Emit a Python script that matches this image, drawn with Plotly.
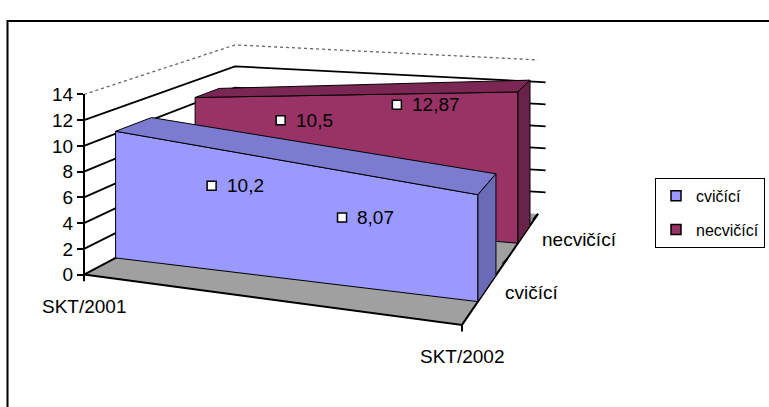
import plotly.graph_objects as go

# ---- data -------------------------------------------------------------
categories = ["SKT/2001", "SKT/2002"]
series_names = ["cvičící", "necvičící"]
cvicici = [10.2, 8.07]
necvicici = [10.5, 12.87]
series_values = [cvicici, necvicici]
value_ticks = [0, 2, 4, 6, 8, 10, 12, 14]
value_tick_labels = ["0", "2", "4", "6", "8", "10", "12", "14"]

# ---- styling ------------------------------------------------------------
FONT = "Liberation Sans, Arial, sans-serif"
FRONT = ["#9999FF", "#993366"]
TOP = ["#7B7BD0", "#7A2853"]
SIDE = ["#6A6AB6", "#6A2348"]
FLOOR = "#A0A0A0"
W, H = 769, 407

# ---- 3-D box projection (screen space, y grows downwards) --------------
# floor corners of the plot box: front-left, front-right, back-left, back-right
BOX = {"FL": (84, 279), "FR": (462, 332), "BL": (235, 195), "BR": (538, 215)}
# pixels per value unit at each vertical edge of the box
SCALE = {"FL": 13.57, "FR": 14.6, "BL": 11.3, "BR": 11.6}
PERSP = 0.5          # depth foreshortening
VMAX = value_ticks[-1]
SLAB = 0.2           # thickness of each area band (share of total depth)


def depth_frac(d):
    return d * (1 + PERSP) / (1 + PERSP * d)


def bilinear(key_vals, c, f):
    fl, fr, bl, br = (key_vals[k] for k in ("FL", "FR", "BL", "BR"))
    return (1 - c) * (1 - f) * fl + c * (1 - f) * fr + (1 - c) * f * bl + c * f * br


def project(c, d, v):
    f = depth_frac(d)
    x = bilinear({k: p[0] for k, p in BOX.items()}, c, f)
    y = bilinear({k: p[1] for k, p in BOX.items()}, c, f)
    s = bilinear(SCALE, c, f)
    return x, y - v * s


def poly(points):
    xs = [p[0] for p in points] + [points[0][0]]
    ys = [p[1] for p in points] + [points[0][1]]
    return xs, ys


fig = go.Figure()


def add_face(points, fill, line="black", lw=1):
    xs, ys = poly(points)
    fig.add_trace(go.Scatter(x=xs, y=ys, mode="lines", fill="toself", fillcolor=fill,
                             line=dict(color=line, width=lw), hoverinfo="skip",
                             showlegend=False))


def add_line(points, color="black", width=1.8, dash="solid"):
    fig.add_trace(go.Scatter(x=[p[0] for p in points], y=[p[1] for p in points],
                             mode="lines", line=dict(color=color, width=width, dash=dash),
                             hoverinfo="skip", showlegend=False))


# walls
add_face([project(0, 1, 0), project(1, 1, 0), project(1, 1, VMAX), project(0, 1, VMAX)], "white", "white", 0)
add_face([project(0, 0, 0), project(0, 1, 0), project(0, 1, VMAX), project(0, 0, VMAX)], "white", "white", 0)

# gridlines on the walls (with a tick past the back-right edge)
for v in value_ticks[1:-1]:
    add_line([project(0, 0, v), project(0, 1, v), project(1, 1, v), project(1.025, 1, v)])
add_line([project(0, 0, VMAX), project(0, 1, VMAX), project(1, 1, VMAX)], "#666666", 1.3, "dot")

# floor
add_face([project(0, 0, 0), project(1, 0, 0), project(1, 1, 0), project(0, 1, 0)], FLOOR, FLOOR, 0)
add_line([project(0, 1, 0), project(0, 0, 0), project(1, 0, 0), project(1, 1, 0)], "black", 2)
for c in (0, 1):
    x, y = project(c, 0, 0)
    add_line([(x, y), (x, y + 7)], "black", 2)
for d in (0.5, 1):
    x, y = project(1, d, 0)
    add_line([(x, y), (x - 5, y + 6)], "black", 2)

# area bands, back series first
n = len(series_names)
for j in reversed(range(n)):
    vals = series_values[j]
    d0 = (j + 0.5) / n - SLAB / 2
    d1 = (j + 0.5) / n + SLAB / 2
    c0, c1 = 0, 1
    v0, v1 = vals[0], vals[-1]
    add_face([project(c0, d0, 0), project(c1, d0, 0), project(c1, d0, v1), project(c0, d0, v0)], FRONT[j])
    add_face([project(c0, d0, v0), project(c1, d0, v1), project(c1, d1, v1), project(c0, d1, v0)], TOP[j])
    add_face([project(c1, d0, 0), project(c1, d1, 0), project(c1, d1, v1), project(c1, d0, v1)], SIDE[j])

# data labels with legend keys
LABEL_C = [0.265, 0.625]
LABEL_H = [0.65, 0.86]
for j in range(n):
    d0 = (j + 0.5) / n - SLAB / 2
    for i, v in enumerate(series_values[j]):
        x, y = project(LABEL_C[i], d0, v * LABEL_H[j])
        fig.add_trace(go.Scatter(x=[x], y=[y], mode="markers", hoverinfo="skip", showlegend=False,
                                 marker=dict(symbol="square", size=9, color="white",
                                             line=dict(color="black", width=1.5))))
        fig.add_annotation(x=x, y=y, text=f"{v:g}".replace(".", ","), showarrow=False,
                           xanchor="left", yanchor="middle", xshift=13,
                           font=dict(family=FONT, size=19, color="black"))

# category labels
for i, name in enumerate(categories):
    x, y = project(i / (len(categories) - 1), 0, 0)
    fig.add_annotation(x=x, y=y, text=name, showarrow=False, xanchor="center", yanchor="middle",
                       yshift=-32, font=dict(family=FONT, size=19, color="black"))

# series labels along the depth axis
for j, name in enumerate(series_names):
    x, y = project(1, (j + 0.5) / n, 0)
    fig.add_annotation(x=x, y=y, text=name, showarrow=False, xanchor="left", yanchor="middle",
                       xshift=16, yshift=-5, font=dict(family=FONT, size=19, color="black"))

# legend entries
for j, name in enumerate(series_names):
    fig.add_trace(go.Scatter(x=[None], y=[None], mode="markers", name=name, legendgroup=name,
                             marker=dict(symbol="square", size=10, color=FRONT[j],
                                         line=dict(color="black", width=1.5))))

# value axis (front-left edge)
fig.add_trace(go.Scatter(x=[None], y=[None], yaxis="y2", showlegend=False, hoverinfo="skip"))
x_axis, y0_px = project(0, 0, 0)
_, ytop_px = project(0, 0, VMAX)

fig.update_layout(
    width=W, height=H,
    margin=dict(l=0, r=0, t=0, b=0),
    paper_bgcolor="white", plot_bgcolor="rgba(0,0,0,0)",
    xaxis=dict(range=[0, W], visible=False, fixedrange=True),
    yaxis=dict(range=[H, 0], visible=False, fixedrange=True),
    yaxis2=dict(range=[0, VMAX], domain=[1 - y0_px / H, 1 - ytop_px / H],
                anchor="free", position=x_axis / W, side="left",
                tickvals=value_ticks, ticktext=value_tick_labels,
                showline=True, linecolor="black", linewidth=2,
                ticks="outside", ticklen=6, tickwidth=2, tickcolor="black",
                showgrid=False, zeroline=False, fixedrange=True,
                tickfont=dict(family=FONT, size=19, color="black")),
    showlegend=True,
    legend=dict(x=655 / W, y=1 - 177 / H, xanchor="left", yanchor="top",
                bgcolor="white", bordercolor="black", borderwidth=1,
                traceorder="grouped", tracegroupgap=10,
                font=dict(family=FONT, size=16, color="black")),
    shapes=[dict(type="rect", xref="paper", yref="paper", x0=7.5 / W, y0=1 - 11.5 / H,
                 x1=1.05, y1=-0.05, line=dict(color="black", width=2))],
)

fig.write_html("out.html")
